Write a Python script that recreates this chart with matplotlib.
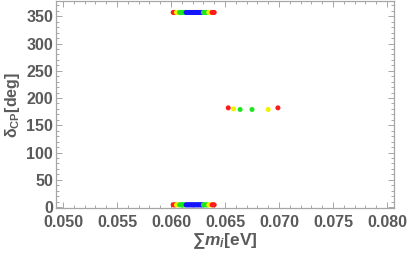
import matplotlib
matplotlib.use("Agg")
import matplotlib.pyplot as plt
from matplotlib.ticker import MultipleLocator

plt.rcParams['mathtext.fontset'] = 'custom'
plt.rcParams['mathtext.rm'] = 'Liberation Sans:bold'
plt.rcParams['mathtext.it'] = 'Liberation Sans:italic:bold'
plt.rcParams['mathtext.bf'] = 'Liberation Sans:bold'
plt.rcParams['mathtext.sf'] = 'Liberation Sans:bold'

# band near delta=0 and delta=360
band_x = [0.0602, 0.0603, 0.0604, 0.0605, 0.0606, 0.0607, 0.0608, 0.0609, 0.0610,
          0.0611, 0.0612, 0.0613, 0.0614, 0.0615, 0.0616, 0.0617, 0.0618, 0.0619,
          0.0620, 0.0621, 0.0622, 0.0623, 0.0624, 0.0625, 0.0626, 0.0627, 0.0628,
          0.0629, 0.0630, 0.0631, 0.0632, 0.0633, 0.0634, 0.0635, 0.0636, 0.0637,
          0.0638, 0.0639, 0.0640]
band_c = ['r', 'r', 'r', 'y', 'y', 'y', 'g', 'g', 'g',
          'g', 'g', 'g', 'b', 'b', 'b', 'b', 'b', 'b',
          'b', 'b', 'b', 'b', 'b', 'b', 'b', 'b', 'b',
          'b', 'g', 'g', 'g', 'g', 'g', 'y', 'y', 'y',
          'r', 'r', 'r']
band_low_y = 4
band_high_y = 357

# isolated points near delta=180
mid_x = [0.0653, 0.0658, 0.0664, 0.0675, 0.0690, 0.0699]
mid_y = [182, 180, 179, 179, 179, 182]
mid_c = ['r', 'y', 'g', 'g', 'y', 'r']

palette = {'r': '#ff1a1a', 'y': '#f2f200', 'g': '#1ee61e', 'b': '#1414ff'}

fig = plt.figure(figsize=(4.09, 2.57), dpi=100)
ax = fig.add_axes([56/409, 1 - 208/257, (394-56)/409, (208-1)/257])

for yv in (band_low_y, band_high_y):
    ax.scatter(band_x, [yv]*len(band_x), c=[palette[c] for c in band_c], s=13,
               edgecolors='none', zorder=3)
ax.scatter(mid_x, mid_y, c=[palette[c] for c in mid_c], s=13, edgecolors='none', zorder=3)

ax.set_xlim(0.04935, 0.08065)
ax.set_ylim(-1.8, 378)

ax.xaxis.set_major_locator(MultipleLocator(0.005))
ax.xaxis.set_minor_locator(MultipleLocator(0.001))
ax.yaxis.set_major_locator(MultipleLocator(50))
ax.yaxis.set_minor_locator(MultipleLocator(10))
ax.xaxis.set_major_formatter(matplotlib.ticker.FormatStrFormatter('%.3f'))

frame_col = '#a6a6a6'
label_col = '#5a5a5a'
for sp in ax.spines.values():
    sp.set_color(frame_col)
    sp.set_linewidth(0.9)
ax.tick_params(which='both', direction='in', top=True, right=True, color=frame_col,
               width=0.7)
ax.tick_params(which='major', length=4)
ax.tick_params(which='minor', length=2)
ax.tick_params(axis='both', which='major', labelsize=11.5, labelcolor=label_col)
ax.tick_params(axis='x', which='major', pad=5)
ax.tick_params(axis='y', which='major', pad=2)
for lab in ax.get_xticklabels() + ax.get_yticklabels():
    lab.set_fontfamily('Liberation Sans')
    lab.set_fontweight('bold')

ax.set_xlabel('∑$m_i$[eV]', fontsize=12.5, color=label_col, fontweight='bold',
              fontfamily='Liberation Sans', labelpad=1)
ax.set_ylabel('δ$_{\\mathrm{CP}}$[deg]', fontsize=11.5, color=label_col, fontweight='bold',
              fontfamily='Liberation Sans', labelpad=3)

fig.savefig('out.png', dpi=100)
